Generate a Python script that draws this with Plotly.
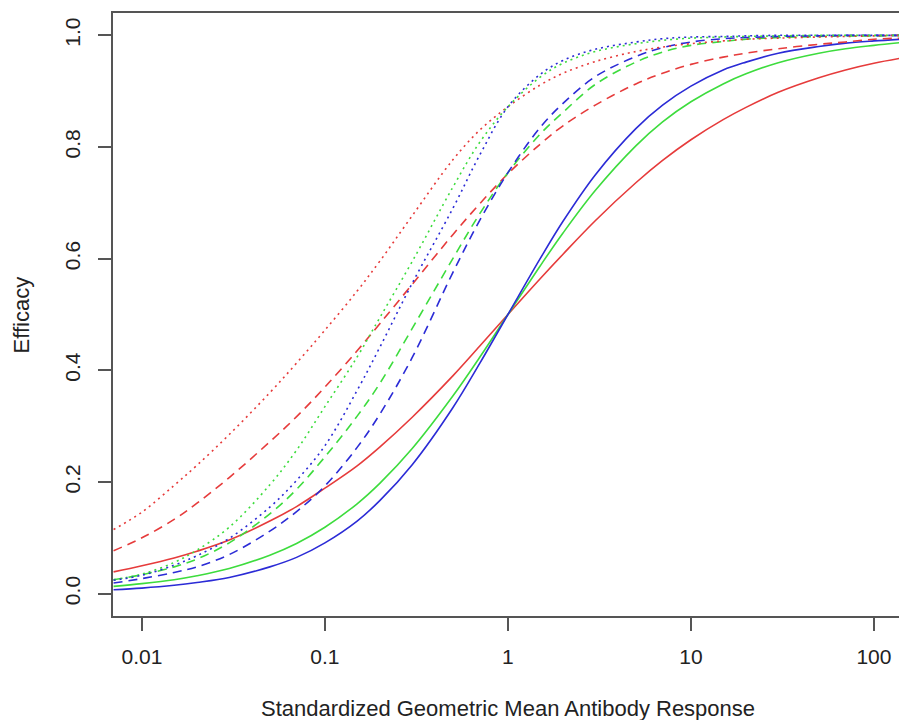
import plotly.graph_objects as go

# Antibody response grid (log scale)
x_vals = [0.007, 0.01, 0.015, 0.02, 0.03, 0.05, 0.07, 0.1, 0.15, 0.2, 0.3, 0.5, 0.7,
          1, 1.5, 2, 3, 5, 7, 10, 15, 20, 30, 50, 70, 100, 140]

# Efficacy, one list per curve
red_solid = [0.039, 0.050, 0.064, 0.076, 0.096, 0.130, 0.156, 0.189, 0.229, 0.263, 0.316, 0.390, 0.443,
             0.500, 0.564, 0.608, 0.668, 0.736, 0.776, 0.813, 0.849, 0.871, 0.898, 0.924, 0.938, 0.950, 0.959]
green_solid = [0.013, 0.018, 0.025, 0.032, 0.045, 0.069, 0.090, 0.119, 0.161, 0.198, 0.260, 0.354, 0.423,
               0.500, 0.587, 0.646, 0.722, 0.802, 0.845, 0.881, 0.913, 0.931, 0.951, 0.968, 0.976, 0.982, 0.987]
blue_solid = [0.007, 0.010, 0.015, 0.020, 0.029, 0.048, 0.065, 0.091, 0.130, 0.167, 0.231, 0.333, 0.412,
              0.500, 0.600, 0.667, 0.750, 0.833, 0.875, 0.909, 0.938, 0.952, 0.968, 0.980, 0.986, 0.990, 0.993]

red_dashed = [0.077, 0.100, 0.133, 0.162, 0.208, 0.272, 0.317, 0.370, 0.435, 0.484, 0.554, 0.643, 0.698,
              0.752, 0.805, 0.838, 0.875, 0.913, 0.932, 0.948, 0.961, 0.968, 0.976, 0.984, 0.988, 0.993, 0.995]
green_dashed = [0.025, 0.034, 0.048, 0.062, 0.091, 0.143, 0.187, 0.245, 0.318, 0.377, 0.475, 0.600, 0.680,
                0.754, 0.823, 0.862, 0.912, 0.952, 0.970, 0.982, 0.989, 0.993, 0.996, 0.998, 0.999, 0.999, 1.000]
blue_dashed = [0.019, 0.027, 0.038, 0.048, 0.070, 0.112, 0.147, 0.193, 0.262, 0.322, 0.423, 0.575, 0.668,
               0.754, 0.835, 0.878, 0.926, 0.962, 0.978, 0.988, 0.994, 0.996, 0.998, 0.999, 1.000, 1.000, 1.000]

red_dotted = [0.115, 0.146, 0.194, 0.230, 0.285, 0.360, 0.413, 0.472, 0.542, 0.596, 0.677, 0.777, 0.830,
              0.872, 0.911, 0.932, 0.953, 0.971, 0.979, 0.985, 0.990, 0.993, 0.995, 0.997, 0.998, 0.999, 1.000]
green_dotted = [0.025, 0.035, 0.056, 0.078, 0.119, 0.195, 0.257, 0.335, 0.424, 0.495, 0.595, 0.728, 0.808,
                0.872, 0.925, 0.950, 0.971, 0.985, 0.991, 0.995, 0.997, 0.998, 0.999, 1.000, 1.000, 1.000, 1.000]
blue_dotted = [0.024, 0.033, 0.051, 0.068, 0.099, 0.155, 0.203, 0.265, 0.364, 0.442, 0.556, 0.690, 0.785,
               0.872, 0.930, 0.955, 0.975, 0.988, 0.994, 0.997, 0.998, 0.999, 1.000, 1.000, 1.000, 1.000, 1.000]

x_tick_vals = [0.01, 0.1, 1, 10, 100]
x_tick_text = ["0.01", "0.1", "1", "10", "100"]
y_tick_vals = [0.0, 0.2, 0.4, 0.6, 0.8, 1.0]

RED = "#e63b3b"
GREEN = "#3ddc3d"
BLUE = "#2b2bd6"
DASHED = "9px,6px"
DOTTED = "2px,4px"

series = [
    (red_solid, RED, "solid"),
    (green_solid, GREEN, "solid"),
    (blue_solid, BLUE, "solid"),
    (red_dashed, RED, DASHED),
    (green_dashed, GREEN, DASHED),
    (blue_dashed, BLUE, DASHED),
    (red_dotted, RED, DOTTED),
    (green_dotted, GREEN, DOTTED),
    (blue_dotted, BLUE, DOTTED),
]

fig = go.Figure()
for ys, colour, dash in series:
    fig.add_trace(
        go.Scatter(
            x=x_vals,
            y=ys,
            mode="lines",
            line=dict(color=colour, width=1.6, dash=dash, shape="spline", smoothing=1),
            hoverinfo="skip",
            showlegend=False,
        )
    )

font = dict(family="Liberation Sans, Arial, sans-serif", size=21, color="#222")
title_font = dict(family="Liberation Sans, Arial, sans-serif", size=22, color="#222")

fig.update_layout(
    width=899,
    height=720,
    margin=dict(l=113, r=0, t=13, b=104),
    paper_bgcolor="white",
    plot_bgcolor="white",
    font=font,
    xaxis=dict(
        type="log",
        range=[-2.158, 2.137],
        tickvals=x_tick_vals,
        ticktext=x_tick_text,
        ticks="outside",
        ticklen=13,
        tickwidth=1.5,
        tickcolor="#555",
        showline=True,
        linecolor="#555",
        linewidth=1.5,
        mirror=True,
        showgrid=False,
        zeroline=False,
        automargin=False,
        ticklabelstandoff=8,
    ),
    yaxis=dict(
        range=[-0.04, 1.04],
        tickvals=y_tick_vals,
        tickformat=".1f",
        tickangle=-90,
        ticks="outside",
        ticklen=13,
        tickwidth=1.5,
        tickcolor="#555",
        showline=True,
        linecolor="#555",
        linewidth=1.5,
        showgrid=False,
        zeroline=False,
        automargin=False,
        ticklabelstandoff=10,
    ),
    annotations=[
        dict(
            text="Standardized Geometric Mean Antibody Response",
            xref="paper", yref="paper",
            x=0.5025, y=-0.1526,
            xanchor="center", yanchor="middle",
            showarrow=False,
            font=title_font,
        ),
        dict(
            text="Efficacy",
            xref="paper", yref="paper",
            x=-0.1158, y=0.5,
            xanchor="center", yanchor="middle",
            textangle=-90,
            showarrow=False,
            font=title_font,
        ),
    ],
)

# drop the default page margin so the figure sits at the window's corner
fig.write_html(
    "out.html",
    config={"displayModeBar": False},
    post_script="document.body.style.margin='0';document.body.style.overflow='hidden';",
)
